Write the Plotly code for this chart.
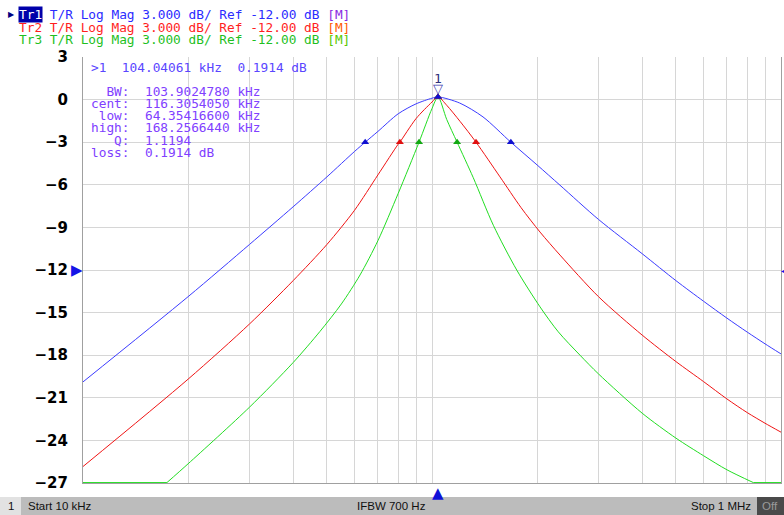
import math
import plotly.graph_objects as go

# ---------------- data (frequency in kHz, magnitude in dB) ----------------
tr1_f = [10, 20, 30, 40, 50, 60, 64.354166, 70, 80, 90, 100, 104.04061, 120, 140,
         168.256644, 200, 232.7, 300, 400, 500, 600, 700, 800, 900, 1000]
tr1_db = [-19.88, -13.88, -10.2, -7.55, -5.44, -3.65, -3.0, -2.24, -1.0, -0.3, 0.1, 0.1914,
          -0.24, -1.22, -3.0, -4.6, -6.03, -8.44, -10.85, -12.75, -14.2, -15.39, -16.37,
          -17.2, -17.91]

tr2_f = [10, 20, 30, 40, 50, 60, 70, 80, 80.9, 90, 100, 104.04, 110.2, 120.3, 133.7, 156.6,
         180, 204, 232.7, 300, 400, 500, 600, 700, 800, 900, 1000]
tr2_db = [-25.84, -19.69, -15.8, -12.75, -10.2, -7.79, -5.3, -3.14, -3.0, -1.34, -0.17, 0.19,
          -0.4, -1.53, -3.0, -5.44, -7.61, -9.33, -10.95, -13.88, -16.58, -18.45, -19.86,
          -21.08, -22.04, -22.79, -23.42]

# Tr3 is clamped to the bottom of the screen (-27 dB) below 17.4 kHz and above 833 kHz
tr3_f = [10, 17.4, 20, 30, 40, 47.7, 55, 62.2, 70, 80, 91.8, 100, 104.04, 110.2, 118.0,
         131.3, 149.9, 174.9, 204, 230, 265.5, 300, 400, 500, 600, 700, 833, 1000]
tr3_db = [-26.97, -26.97, -25.65, -21.66, -18.52, -16.34, -14.39, -12.35, -9.93, -6.61, -3.0,
          -0.63, 0.19, -1.4, -3.0, -5.5, -8.85, -12.0, -14.6, -16.35, -18.0, -19.32, -22.08,
          -23.84, -25.08, -26.07, -26.97, -26.97]
tr3_clamp_lo, tr3_clamp_hi = 1, len(tr3_f) - 2   # indices where the clamped parts end/start

# bandwidth (-3 dB) marker positions per trace
bw1_f = [64.354166, 168.256644]
bw2_f = [80.9, 133.7]
bw3_f = [91.8, 118.0]
bw_db = [-3.0, -3.0]
peak_f = 104.04061
peak_db = 0.1914

y_ticks = [3, 0, -3, -6, -9, -12, -15, -18, -21, -24, -27]
y_ticktext = [("\u2212" + str(abs(v))) if v < 0 else str(v) for v in y_ticks]
x_grid = [m * 10 ** d for d in (1, 2) for m in range(1, 10)] + [1000]
ref_level = -12.0

header_lines = [
    ("Tr1 T/R Log Mag 3.000 dB/ Ref -12.00 dB ", "[M]", "#2b2bff", "#8a2be2"),
    ("Tr2 T/R Log Mag 3.000 dB/ Ref -12.00 dB ", "[M]", "#ff1e1e", "#ff5a00"),
    ("Tr3 T/R Log Mag 3.000 dB/ Ref -12.00 dB ", "[M]", "#1fbf1f", "#5cc800"),
]
readout_head = ">1  104.04061 kHz  0.1914 dB"
readout_lines = [
    "  BW:  103.9024780 kHz",
    "cent:  116.3054050 kHz",
    " low:  64.35416600 kHz",
    "high:  168.2566440 kHz",
    "   Q:  1.1194",
    "loss:  0.1914 dB",
]
status_left = "Start 10 kHz"
status_mid = "IFBW 700 Hz"
status_right = "Stop 1 MHz"

# ---------------- layout geometry ----------------
W, H = 784, 515
ML, MR, MT, MB = 83, 3, 57, 32
PW, PH = W - ML - MR, H - MT - MB


def px(x):
    return (x - ML) / PW


def py(y):
    return (H - MB - y) / PH


def nb(s):
    return s.replace(" ", "\u00a0")


MONO = "DejaVu Sans Mono"
blue, red, green = "#3b3bff", "#f01414", "#22dd22"

fig = go.Figure()


def add_line(f, d, c, shape):
    fig.add_trace(go.Scatter(x=f, y=d, mode="lines",
                             line=dict(color=c, width=1, shape=shape, smoothing=0.8),
                             hoverinfo="skip"))


# Tr3: clamped parts straight, the rest smooth
add_line(tr3_f[:tr3_clamp_lo + 1], tr3_db[:tr3_clamp_lo + 1], green, "linear")
add_line(tr3_f[tr3_clamp_lo:tr3_clamp_hi + 1], tr3_db[tr3_clamp_lo:tr3_clamp_hi + 1], green, "spline")
add_line(tr3_f[tr3_clamp_hi:], tr3_db[tr3_clamp_hi:], green, "linear")
add_line(tr2_f, tr2_db, red, "spline")
add_line(tr1_f, tr1_db, blue, "spline")

for f, c in [(bw3_f, "#12a812"), (bw2_f, "#e01010"), (bw1_f, "#1010d0")]:
    fig.add_trace(go.Scatter(x=f + [peak_f], y=bw_db + [peak_db], mode="markers",
                             marker=dict(symbol="triangle-up", size=7, color=c),
                             hoverinfo="skip"))

fig.update_layout(
    width=W, height=H, margin=dict(l=ML, r=MR, t=MT, b=MB),
    paper_bgcolor="white", plot_bgcolor="white", showlegend=False,
    xaxis=dict(type="log", range=[1, 3], tickvals=x_grid, showticklabels=False,
               showgrid=True, gridcolor="#d6d6d6", gridwidth=1, zeroline=False,
               showline=True, linecolor="#a0a0a0", linewidth=1, ticks="", fixedrange=True),
    yaxis=dict(range=[-27, 3], tickvals=y_ticks, ticktext=y_ticktext,
               tickfont=dict(family="DejaVu Sans", size=15, color="black", weight="bold"),
               showgrid=True, gridcolor="#d6d6d6", gridwidth=1, zeroline=False,
               showline=True, linecolor="#a0a0a0", linewidth=1, mirror=True, ticks="",
               ticklabelstandoff=11, fixedrange=True),
)

ann = []
# header
for i, (txt, m, c, mc) in enumerate(header_lines):
    ann.append(dict(xref="paper", yref="paper", x=px(18), y=py(15 + 12 * i),
                    xanchor="left", yanchor="middle", showarrow=False,
                    text=nb(txt) + f'<span style="color:{mc}">{m}</span>',
                    font=dict(family=MONO, size=12.8, color=c), borderpad=0))
ann.append(dict(xref="paper", yref="paper", x=px(18), y=py(15), xanchor="left",
                yanchor="middle", showarrow=False, text="Tr1", bgcolor="#0000aa",
                font=dict(family=MONO, size=12.8, color="white"), borderpad=0))
ann.append(dict(xref="paper", yref="paper", x=px(17), y=py(15), xanchor="right",
                yanchor="middle", showarrow=False, text="\u25b6",
                font=dict(family="DejaVu Sans", size=8, color="#000080")))
# marker readout
ann.append(dict(xref="paper", yref="paper", x=px(89), y=py(67), xanchor="left",
                yanchor="middle", showarrow=False, text=nb(readout_head),
                font=dict(family=MONO, size=12.8, color="#5a46ff")))
for i, t in enumerate(readout_lines):
    ann.append(dict(xref="paper", yref="paper", x=px(89), y=py(91 + 12.3 * i),
                    xanchor="left", yanchor="middle", showarrow=False, text=nb(t),
                    font=dict(family=MONO, size=12.8, color="#8040ff")))
# marker 1 flag
ann.append(dict(x=math.log10(peak_f), y=peak_db, xref="x", yref="y", showarrow=False,
                text="\u25bd", yshift=8, font=dict(family="DejaVu Sans", size=13, color="#4040b0")))
ann.append(dict(x=math.log10(peak_f), y=peak_db, xref="x", yref="y", showarrow=False,
                text="1", yshift=18, font=dict(family=MONO, size=13, color="#30307a")))
# reference level arrows
ann.append(dict(xref="paper", y=ref_level, yref="y", x=px(85), xanchor="right",
                yanchor="middle", showarrow=False, text="\u25b6",
                font=dict(family="DejaVu Sans", size=15, color="#1414e6")))
ann.append(dict(xref="paper", y=ref_level, yref="y", x=px(779), xanchor="left",
                yanchor="middle", showarrow=False, text="\u25c0",
                font=dict(family="DejaVu Sans", size=10, color="#1414e6")))
# stimulus marker at bottom
ann.append(dict(x=math.log10(peak_f), xref="x", yref="paper", y=0, yanchor="top",
                showarrow=False, text="\u25b2", yshift=1,
                font=dict(family="DejaVu Sans", size=15, color="#1010d8")))
# status bar text
SF = dict(family="Liberation Sans", size=11.5, color="#101010")
ann.append(dict(xref="paper", yref="paper", x=px(11), y=py(506), xanchor="center",
                yanchor="middle", showarrow=False, text="1", font=SF))
ann.append(dict(xref="paper", yref="paper", x=px(26), y=py(506), xanchor="left",
                yanchor="middle", showarrow=False, text=status_left, font=SF))
ann.append(dict(xref="paper", yref="paper", x=px(391), y=py(506), xanchor="center",
                yanchor="middle", showarrow=False, text=status_mid, font=SF))
ann.append(dict(xref="paper", yref="paper", x=px(753), y=py(506), xanchor="right",
                yanchor="middle", showarrow=False, text=status_right, font=SF))
ann.append(dict(xref="paper", yref="paper", x=px(770), y=py(506), xanchor="center",
                yanchor="middle", showarrow=False, text="Off",
                font=dict(family="Liberation Sans", size=11.5, color="#9a9a9a")))
fig.update_layout(annotations=ann)

shapes = [
    dict(type="rect", xref="paper", yref="paper", x0=px(0), x1=px(W), y0=py(H), y1=py(497),
         fillcolor="#bcbcbc", line=dict(width=0), layer="below"),
    dict(type="rect", xref="paper", yref="paper", x0=px(0), x1=px(21), y0=py(H), y1=py(497),
         fillcolor="#e2e2e2", line=dict(width=0), layer="below"),
    dict(type="rect", xref="paper", yref="paper", x0=px(757), x1=px(W), y0=py(H), y1=py(497),
         fillcolor="#4a4a4a", line=dict(width=0), layer="below"),
]
fig.update_layout(shapes=shapes)

fig.write_html("out.html", config={"displayModeBar": False},
               post_script="document.body.style.margin='0';"
                           "document.documentElement.style.overflow='hidden';")
